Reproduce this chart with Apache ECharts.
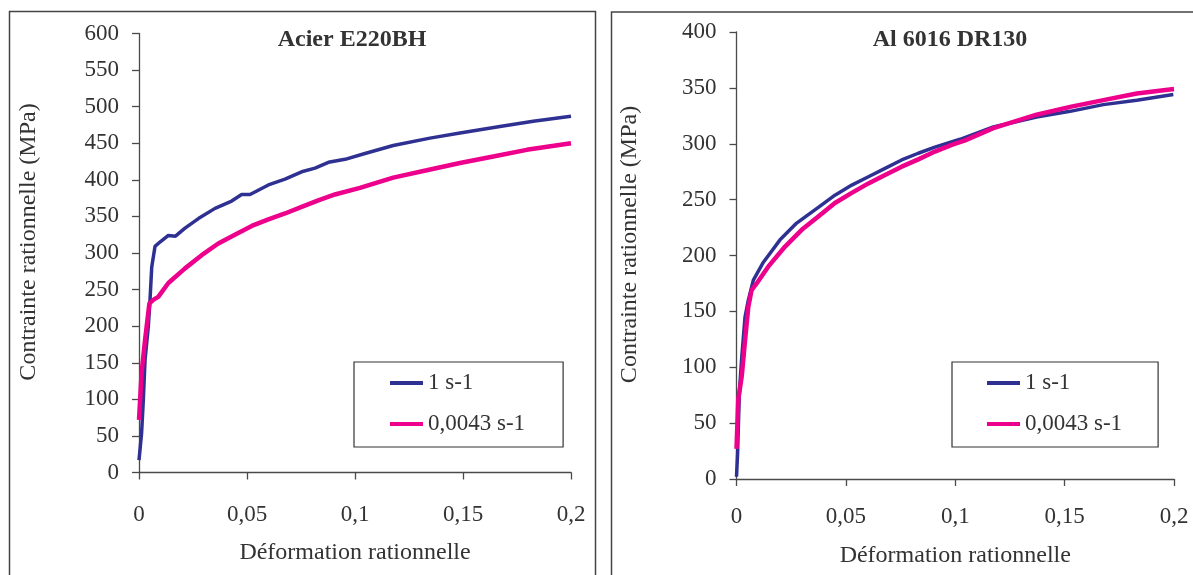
<!DOCTYPE html>
<html>
<head>
<meta charset="utf-8">
<script src="https://cdn.jsdelivr.net/npm/echarts@6/dist/echarts.min.js"></script>
<style>
html,body{margin:0;padding:0;background:#fff;}
#chart{width:1193px;height:575px;}
</style>
</head>
<body>
<div id="chart"></div>
<script>
// ---- Data ----
const titleLeft = 'Acier E220BH';
const titleRight = 'Al 6016 DR130';
const seriesNames = ['1 s-1', '0,0043 s-1'];
const xAxisName = 'Déformation rationnelle';
const yAxisName = 'Contrainte rationnelle (MPa)';

// Acier E220BH, 1 s-1
const steelFastX = [0, 0.0012, 0.002, 0.0028, 0.0043, 0.0051, 0.0059, 0.0074, 0.0097, 0.0136, 0.0169, 0.0213, 0.0275, 0.0352, 0.0429, 0.0475, 0.0514, 0.0599, 0.0676, 0.0753, 0.0815, 0.0877, 0.0954, 0.1046, 0.1177, 0.1347, 0.1486, 0.1671, 0.1825, 0.2];
const steelFastY = [17, 54, 99, 154, 199, 236, 281, 309, 315, 324, 323, 334, 347, 361, 371, 380, 380, 393, 401, 411, 416, 424, 428, 436, 447, 457, 464, 473, 480, 487];
// Acier E220BH, 0,0043 s-1
const steelSlowX = [0, 0.0012, 0.0028, 0.0048, 0.0066, 0.0089, 0.0136, 0.0213, 0.029, 0.0367, 0.0444, 0.0522, 0.0599, 0.0676, 0.0753, 0.083, 0.0907, 0.1023, 0.1177, 0.1332, 0.1486, 0.164, 0.1795, 0.2];
const steelSlowY = [72, 136, 181, 231, 236, 240, 259, 279, 297, 313, 325, 337, 346, 354, 363, 372, 380, 389, 403, 413, 423, 432, 441, 450];
// Al 6016 DR130, 1 s-1
const alFastX = [0, 0.0005, 0.0013, 0.0024, 0.0039, 0.0054, 0.0077, 0.0123, 0.0199, 0.0275, 0.0374, 0.045, 0.0527, 0.0603, 0.0679, 0.0755, 0.0831, 0.0907, 0.1022, 0.1174, 0.1372, 0.1525, 0.1677, 0.183, 0.1997];
const alFastY = [2, 23, 77, 109, 145, 160, 178, 194, 214, 229, 243, 254, 263, 270.5, 278, 285.5, 291.5, 297, 304, 315, 324, 329, 335, 339, 344];
// Al 6016 DR130, 0,0043 s-1
const alSlowX = [0, 0.0008, 0.0024, 0.0039, 0.0054, 0.0069, 0.0092, 0.0145, 0.0222, 0.0298, 0.0374, 0.045, 0.0527, 0.0603, 0.0679, 0.0755, 0.0831, 0.0907, 0.0984, 0.1045, 0.1174, 0.1372, 0.1525, 0.1677, 0.183, 0.2];
const alSlowY = [27, 71, 92, 124, 154, 169, 175, 190, 208, 223, 235, 247, 256, 264.5, 272, 279.5, 286, 293, 299, 303, 314, 326, 333, 339, 345, 349];

const zip = (xs, ys) => xs.map((x, i) => [x, ys[i]]);

const FONT = '"Liberation Serif", "Times New Roman", serif';
const TXT = '#333333';
const AXC = '#4a4a4a';
const BLUE = '#2E3192';
const PINK = '#EC008C';

function xAxisCfg(gridIndex, labelMargin, nameGap) {
  return {
    type: 'value', gridIndex, min: 0, max: 0.2, interval: 0.05,
    name: xAxisName, nameLocation: 'middle', nameGap,
    nameTextStyle: {fontFamily: FONT, fontSize: 24, color: TXT},
    axisLine: {show: true, onZero: false, lineStyle: {color: AXC, width: 1.3}},
    axisTick: {show: true, inside: false, length: 7, lineStyle: {color: AXC, width: 1.3}},
    axisLabel: {fontFamily: FONT, fontSize: 23, color: TXT, margin: labelMargin,
      formatter: v => String(+v.toFixed(2)).replace('.', ',')},
    splitLine: {show: false}
  };
}
function yAxisCfg(gridIndex, max, nameGap) {
  return {
    type: 'value', gridIndex, min: 0, max, interval: 50,
    name: yAxisName, nameLocation: 'middle', nameGap,
    nameTextStyle: {fontFamily: FONT, fontSize: 24, color: TXT, padding: [0, 0, 0, 22]},
    axisLine: {show: true, onZero: false, lineStyle: {color: AXC, width: 1.3}},
    axisTick: {show: true, inside: false, length: 7, lineStyle: {color: AXC, width: 1.3}},
    axisLabel: {fontFamily: FONT, fontSize: 23, color: TXT, margin: 20},
    splitLine: {show: false}
  };
}
function legendCfg(left, top, padLeft, padRight) {
  return {
    left, top, orient: 'vertical',
    data: seriesNames,
    icon: 'rect', itemWidth: 33, itemHeight: 4, itemGap: 18,
    padding: [9.5, padRight, 11.5, padLeft],
    borderColor: '#333', borderWidth: 1.2, borderRadius: 0,
    backgroundColor: '#fff',
    selectedMode: false,
    textStyle: {fontFamily: FONT, fontSize: 23, color: TXT, lineHeight: 23}
  };
}
function lineSeries(name, xi, yi, data, color, width, z) {
  return {
    name, type: 'line', xAxisIndex: xi, yAxisIndex: yi, data,
    showSymbol: false, symbol: 'none', smooth: false, z,
    lineStyle: {color, width}, itemStyle: {color},
    animation: false
  };
}

const chart = echarts.init(document.getElementById('chart'), null, {renderer: 'canvas'});
chart.setOption({
  backgroundColor: '#fff',
  animation: false,
  title: [
    {text: titleLeft, left: 347, top: 23, textAlign: 'center',
      textStyle: {fontFamily: FONT, fontSize: 24, fontWeight: 'bold', color: TXT}},
    {text: titleRight, left: 945, top: 23, textAlign: 'center',
      textStyle: {fontFamily: FONT, fontSize: 24, fontWeight: 'bold', color: TXT}}
  ],
  grid: [
    {left: 139, top: 33.5, width: 432, height: 439, containLabel: false},
    {left: 736.5, top: 32, width: 437.5, height: 447, containLabel: false}
  ],
  xAxis: [xAxisCfg(0, 31, 68.5), xAxisCfg(1, 26, 65)],
  yAxis: [yAxisCfg(0, 600, 98.5), yAxisCfg(1, 400, 94.5)],
  legend: [legendCfg(354, 362, 36, 38), legendCfg(952, 362, 35, 36)],
  graphic: [
    {type: 'rect', shape: {x: 9.5, y: 11.5, width: 586, height: 600},
      style: {fill: 'none', stroke: '#444', lineWidth: 1.5}, silent: true, z: -1},
    {type: 'rect', shape: {x: 611.5, y: 12, width: 600, height: 600},
      style: {fill: 'none', stroke: '#444', lineWidth: 1.5}, silent: true, z: -1}
  ],
  series: [
    lineSeries(seriesNames[0], 0, 0, zip(steelFastX, steelFastY), BLUE, 3.5, 2),
    lineSeries(seriesNames[1], 0, 0, zip(steelSlowX, steelSlowY), PINK, 4.5, 3),
    lineSeries(seriesNames[0], 1, 1, zip(alFastX, alFastY), BLUE, 3.5, 2),
    lineSeries(seriesNames[1], 1, 1, zip(alSlowX, alSlowY), PINK, 4.5, 3)
  ]
});
</script>
</body>
</html>
